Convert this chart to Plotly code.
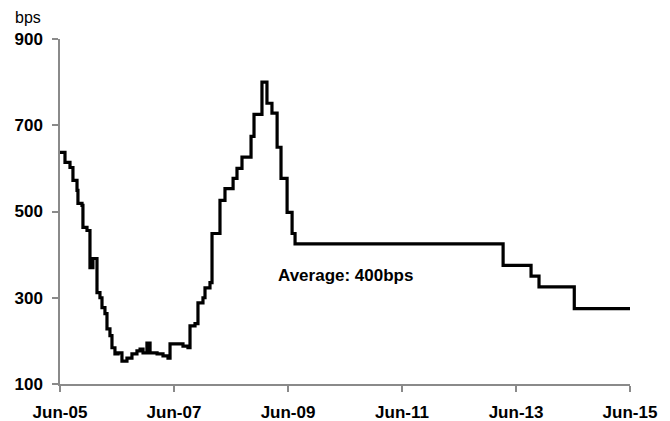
import plotly.graph_objects as go

dates = [
    "2005-06-01", "2005-07-03", "2005-08-04", "2005-08-23", "2005-09-18", "2005-09-24",
    "2005-10-20", "2005-10-26", "2005-11-21", "2005-12-10", "2005-12-29", "2006-01-24",
    "2006-02-12", "2006-02-25", "2006-03-16", "2006-03-29", "2006-04-17", "2006-04-30",
    "2006-05-19", "2006-06-08", "2006-07-03", "2006-08-04", "2006-09-05", "2006-10-07",
    "2006-10-27", "2006-11-15", "2006-12-10", "2006-12-30", "2007-02-13", "2007-03-23",
    "2007-04-24", "2007-05-07", "2007-06-21", "2007-07-29", "2007-08-30", "2007-09-12",
    "2007-10-14", "2007-11-02", "2007-12-04", "2007-12-17", "2008-01-18", "2008-01-31",
    "2008-03-22", "2008-04-23", "2008-06-14", "2008-07-09", "2008-08-10", "2008-10-07",
    "2008-10-26", "2008-12-16", "2009-01-17", "2009-02-18", "2009-03-23", "2009-04-17",
    "2009-05-26", "2009-06-27", "2009-07-16", "2013-03-10", "2013-09-05", "2013-10-26",
    "2014-06-09", "2015-06-01",
]
spread_bps = [
    637, 614, 602, 572, 549, 519,
    514, 463, 456, 370, 391, 312,
    300, 277, 263, 228, 212, 184,
    170, 172, 153, 160, 170, 177,
    181, 172, 195, 172, 170, 165,
    160, 193, 193, 188, 184, 235,
    240, 288, 300, 323, 335, 449,
    526, 553, 577, 600, 626, 674,
    725, 800, 751, 728, 649, 577,
    498, 449, 425, 375, 350, 325,
    275, 275,
]

x_tickvals = ["2005-06-01", "2007-06-01", "2009-06-01", "2011-06-01", "2013-06-01", "2015-06-01"]
x_ticktext = ["Jun-05", "Jun-07", "Jun-09", "Jun-11", "Jun-13", "Jun-15"]
y_tickvals = [100, 300, 500, 700, 900]

annotation_text = "Average: 400bps"
annotation_x = "2009-03-15"
annotation_y = 352
unit_label = "bps"

FONT = "Liberation Sans, Arial, sans-serif"
AXIS_COLOR = "#8a8a8a"

fig = go.Figure()
fig.add_trace(go.Scatter(
    x=dates, y=spread_bps, mode="lines",
    line=dict(color="black", width=3.2, shape="hv"),
    showlegend=False, hoverinfo="skip",
))

fig.add_annotation(
    x=annotation_x, y=annotation_y, text="<b>" + annotation_text + "</b>",
    showarrow=False, xanchor="left", yanchor="middle",
    font=dict(family=FONT, size=17, color="black"),
)
fig.add_annotation(
    x=-0.083, y=1.062, xref="paper", yref="paper", text=unit_label,
    showarrow=False, xanchor="left", yanchor="middle",
    font=dict(family=FONT, size=16, color="black"),
)

fig.update_layout(
    width=670, height=421,
    margin=dict(l=60, r=40, t=39, b=37),
    paper_bgcolor="white", plot_bgcolor="white",
    font=dict(family=FONT, size=17, color="black"),
    xaxis=dict(
        type="date", range=["2005-06-01", "2015-06-01"],
        tickmode="array", tickvals=x_tickvals,
        ticktext=["<b>" + t + "</b>" for t in x_ticktext],
        showgrid=False, zeroline=False, automargin=False,
        showline=True, linecolor=AXIS_COLOR, linewidth=1.5,
        ticks="outside", ticklen=6, tickcolor=AXIS_COLOR, tickwidth=1.5,
        ticklabelstandoff=6,
        tickfont=dict(family=FONT, size=17, color="black"),
    ),
    yaxis=dict(
        range=[100, 900],
        tickmode="array", tickvals=y_tickvals,
        ticktext=["<b>" + str(v) + "</b>" for v in y_tickvals],
        showgrid=False, zeroline=False, automargin=False,
        showline=True, linecolor=AXIS_COLOR, linewidth=1.5,
        ticks="outside", ticklen=6, tickcolor=AXIS_COLOR, tickwidth=1.5,
        ticklabelstandoff=6,
        tickfont=dict(family=FONT, size=17, color="black"),
    ),
)

fig.write_html(
    "out.html",
    config={"displayModeBar": False},
    post_script="document.body.style.margin='0';document.body.style.overflow='hidden';",
)
